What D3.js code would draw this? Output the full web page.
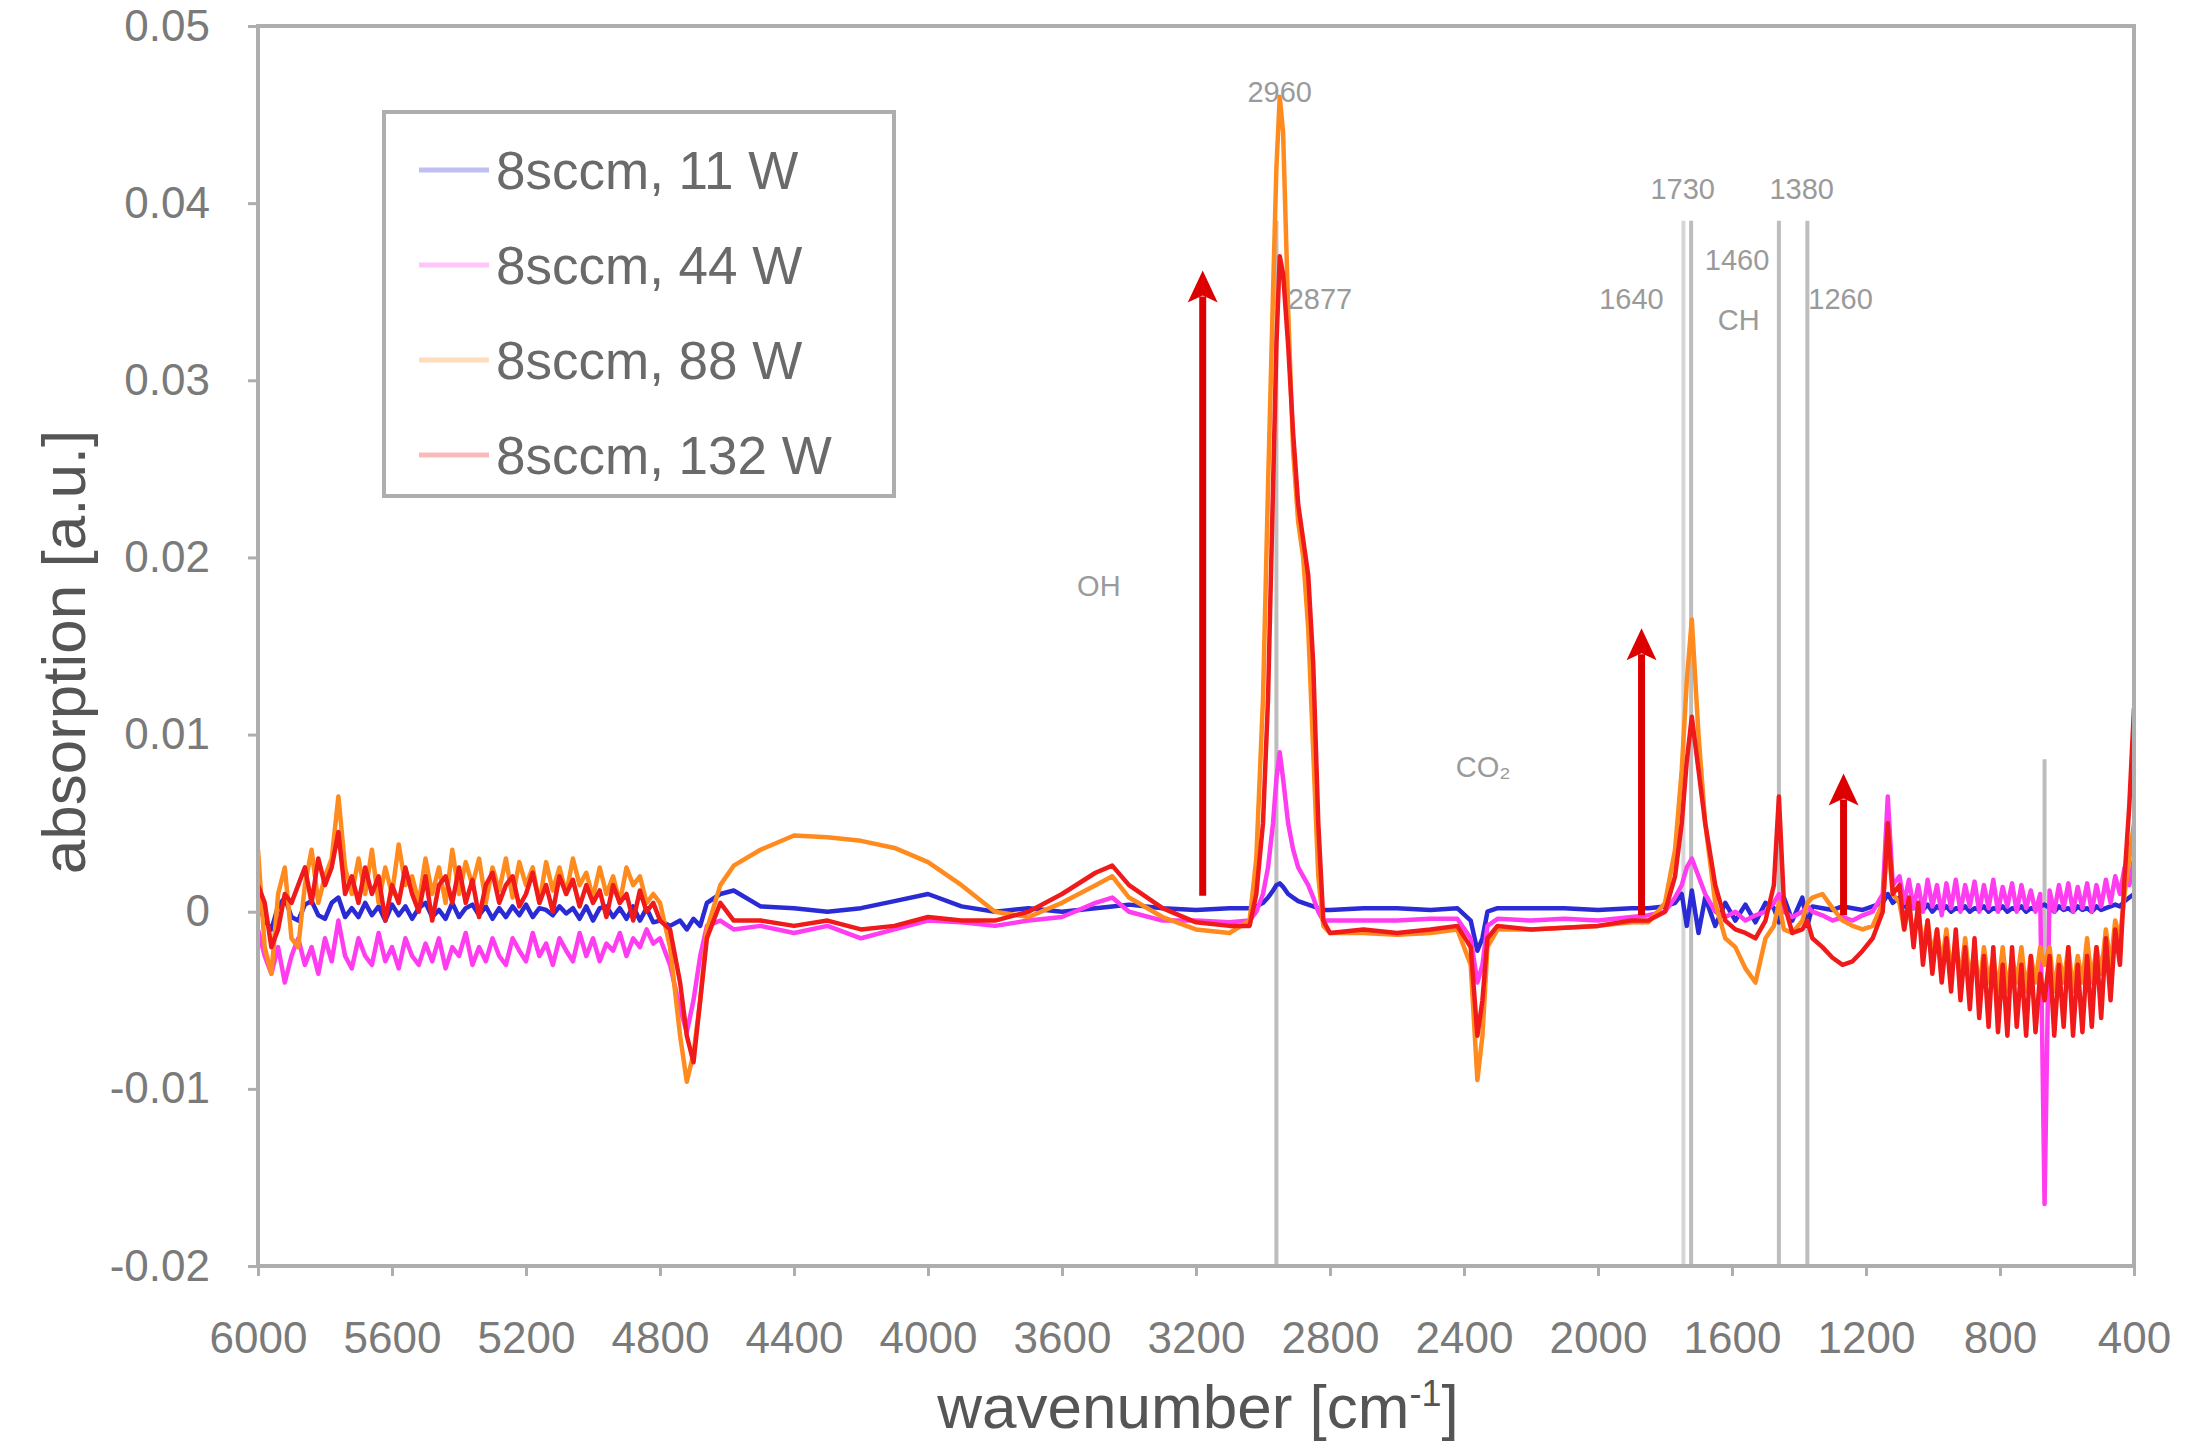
<!DOCTYPE html>
<html><head><meta charset="utf-8">
<script src="https://cdn.jsdelivr.net/npm/d3@7"></script>
<style>body{margin:0;background:#fff} svg{display:block}</style>
</head><body>
<svg id="c" width="2190" height="1454"></svg>
<script>
// ---------- DATA (absorption in units of 10^-3 a.u.) ----------
const wavenumbers = [
 6000,5980,5960,5940,5920,5900,5880,5860,5840,5820,5800,5780,5760,5740,5720,5700,5680,5660,5640,5620,
 5600,5580,5560,5540,5520,5500,5480,5460,5440,5420,5400,5380,5360,5340,5320,5300,5280,5260,5240,5220,
 5200,5180,5160,5140,5120,5100,5080,5060,5040,5020,5000,4980,4960,4940,4920,4900,4880,4860,4840,4820,
 4800,4770,4740,4720,4700,4680,4660,4620,4580,
 4500,4400,4300,4200,4100,4000,3900,3800,3700,3600,3500,3450,3400,3300,3200,3100,
 3040,3020,3000,2985,2970,2960,2950,2940,2925,2910,2895,2880,2865,2850,2835,2820,2800,
 2700,2600,2500,2420,2380,2360,2345,2330,2300,2200,2100,2000,1900,
 1850,1800,1770,1750,1735,1720,1700,1680,1650,1620,1590,1560,1530,1500,1475,1460,1445,1420,1390,1375,1360,1330,1300,1270,1240,1210,1180,1150,1135,1120,
 1100,1086,1072,1058,1044,1030,1016,1002,988,974,960,946,932,918,904,890,876,862,848,834,820,806,792,778,764,750,736,722,708,694,680,
 667,
 652,638,624,610,596,582,568,554,540,526,512,498,484,470,456,442,428,414,400
];
const abs11W = [
 0.5,-0.5,-1.0,0.3,0.8,-0.3,-0.5,0.4,0.6,-0.2,-0.4,0.5,0.8,-0.3,0.2,-0.3,0.5,-0.2,0.3,-0.5,
 0.4,-0.2,0.3,-0.4,0.2,0.5,-0.3,0.1,-0.4,0.5,-0.3,0.2,0.4,-0.2,0.3,-0.4,0.2,-0.3,0.3,-0.2,
 0.4,-0.3,0.2,0.1,-0.2,0.3,-0.1,0.2,-0.4,0.3,-0.5,0.2,0.3,-0.3,0.2,-0.4,0.3,-0.5,0.2,-0.6,
 -0.5,-0.8,-0.5,-1.0,-0.4,-0.8,0.5,1.0,1.2,
 0.3,0.2,0.0,0.2,0.6,1.0,0.3,0.0,0.2,0.0,0.2,0.3,0.4,0.2,0.1,0.2,
 0.2,0.3,0.5,0.8,1.2,1.5,1.6,1.4,1.0,0.8,0.6,0.5,0.4,0.3,0.2,0.1,0.1,
 0.2,0.2,0.1,0.2,-0.5,-2.2,-1.5,0.0,0.2,0.2,0.2,0.1,0.2,
 0.2,0.3,0.5,1.0,-0.8,1.2,-1.2,0.8,-0.8,0.5,-0.5,0.4,-0.6,0.5,0.2,-0.6,0.8,-0.5,0.8,-0.8,0.3,0.2,0.1,0.3,0.2,0.1,0.3,0.5,1.0,0.5,
 0.8,0.3,0.5,0.2,0.4,0.1,0.4,0.0,0.3,0.1,0.3,0.0,0.2,0.1,0.3,0.0,0.2,0.1,0.3,0.0,0.2,0.1,0.3,0.0,0.2,0.1,0.3,0.0,0.2,0.1,0.3,
 0.4,
 0.2,0.0,0.3,0.1,0.2,0.0,0.3,0.1,0.2,0.0,0.3,0.1,0.2,0.3,0.4,0.3,0.6,0.8,1.0
];
const abs44W = [
 -1.0,-2.5,-3.5,-2.0,-4.0,-2.5,-1.5,-3.0,-2.0,-3.5,-1.5,-2.8,-0.5,-2.5,-3.2,-1.5,-2.5,-3.0,-1.2,-2.8,
 -2.0,-3.2,-1.5,-2.5,-3.0,-1.8,-2.8,-1.5,-3.2,-2.0,-2.5,-1.2,-3.0,-2.0,-2.8,-1.5,-2.5,-3.0,-1.5,-2.2,
 -2.8,-1.2,-2.5,-1.8,-3.0,-1.5,-2.2,-2.8,-1.2,-2.5,-1.5,-2.8,-1.8,-2.2,-1.2,-2.5,-1.5,-2.0,-1.0,-1.8,
 -1.5,-3.0,-5.5,-6.8,-5.0,-2.5,-0.8,-0.5,-1.0,
 -0.8,-1.2,-0.8,-1.5,-1.0,-0.5,-0.6,-0.8,-0.5,-0.3,0.5,0.8,0.0,-0.5,-0.5,-0.6,
 -0.5,0.0,1.0,2.5,5.0,7.5,9.0,7.5,5.0,3.5,2.5,2.0,1.5,0.8,0.0,-0.5,-0.5,
 -0.5,-0.5,-0.4,-0.4,-1.5,-4.0,-3.0,-0.8,-0.4,-0.5,-0.4,-0.5,-0.3,
 -0.2,0.0,0.8,1.5,2.5,3.0,2.0,1.0,0.0,-0.3,0.0,-0.5,-0.2,0.0,0.5,1.0,0.0,-0.3,0.0,0.3,0.0,-0.2,-0.5,-0.3,-0.5,-0.2,0.0,1.0,6.5,1.5,
 2.0,0.5,1.8,0.2,1.5,0.0,1.8,0.3,1.5,-0.2,1.6,0.2,1.8,0.0,1.5,0.3,1.7,0.0,1.5,0.2,1.8,0.0,1.4,0.3,1.6,0.0,1.5,0.2,1.2,0.0,1.0,
 -16.5,
 1.2,0.0,1.5,0.2,1.6,0.0,1.4,0.2,1.6,0.0,1.5,0.3,1.8,0.5,2.0,1.0,2.5,1.5,3.0
];
const abs88W = [
 3.5,-2.0,-3.5,1.0,2.5,-1.5,-2.0,1.5,3.5,0.5,2.0,3.0,6.5,2.5,1.0,3.0,1.0,3.5,0.5,2.5,
 1.0,3.8,1.5,2.0,0.5,3.0,1.0,2.5,0.5,3.5,1.0,2.8,1.5,3.0,0.5,2.5,1.2,3.0,0.8,2.8,
 1.5,2.5,0.5,2.8,1.2,2.5,1.0,3.0,1.5,2.2,0.8,2.5,1.0,2.0,0.5,2.5,1.5,2.0,0.5,1.0,
 0.5,-2.0,-7.0,-9.6,-8.0,-5.0,-1.0,1.5,2.6,
 3.5,4.3,4.2,4.0,3.6,2.8,1.5,0.0,-0.3,0.5,1.5,2.0,0.8,-0.3,-1.0,-1.2,
 -0.5,3.0,12.0,24.0,35.0,42.0,46.0,44.0,34.0,26.0,22.0,20.0,16.0,9.0,2.0,-0.8,-1.2,
 -1.2,-1.3,-1.2,-1.0,-3.0,-9.5,-7.0,-2.0,-1.0,-1.0,-0.9,-0.8,-0.6,
 -0.6,0.5,3.5,8.0,13.0,16.5,10.0,5.0,0.5,-1.5,-2.0,-3.2,-4.0,-1.5,-0.8,0.5,-1.0,-1.2,-0.5,0.5,0.8,1.0,0.2,-0.5,-0.8,-1.0,-0.8,0.5,4.0,1.0,
 0.5,-1.0,0.3,-1.5,0.0,-2.0,-0.5,-2.5,-1.0,-3.0,-1.0,-3.5,-1.5,-3.8,-1.5,-4.0,-2.0,-4.5,-2.0,-4.0,-2.5,-4.5,-2.0,-4.5,-2.5,-4.0,-2.0,-4.5,-2.5,-4.0,-2.0,
 -3.0,
 -2.0,-4.5,-2.5,-4.0,-2.0,-4.5,-2.5,-4.0,-1.5,-4.0,-2.0,-3.5,-1.0,-3.0,-0.5,-1.5,1.0,3.0,5.0
];
const abs132W = [
 1.5,0.5,-2.0,-1.0,1.0,0.5,1.5,2.5,0.5,3.0,1.5,2.5,4.5,1.0,2.0,0.5,2.5,1.0,2.0,-0.5,
 1.5,0.5,2.5,1.0,0.0,2.0,-0.5,1.5,2.0,0.5,2.5,0.5,1.8,-0.3,1.5,2.2,0.5,1.5,2.0,0.3,
 1.0,2.2,0.5,1.5,0.0,2.0,1.0,1.8,0.3,1.5,0.5,1.2,-0.3,1.5,0.5,1.0,-0.5,1.2,0.0,0.5,
 -0.5,-1.0,-4.0,-7.0,-8.5,-5.0,-1.5,0.5,-0.5,
 -0.5,-0.8,-0.5,-1.0,-0.8,-0.3,-0.5,-0.5,0.0,1.0,2.2,2.6,1.5,0.2,-0.6,-0.8,
 -0.8,1.0,5.0,12.0,24.0,32.0,37.0,36.0,32.0,27.0,23.0,21.0,19.0,14.0,5.0,-0.5,-1.2,
 -1.0,-1.2,-1.0,-0.8,-2.0,-7.0,-5.0,-1.5,-0.8,-1.0,-0.9,-0.8,-0.5,
 -0.5,0.0,2.0,5.0,8.5,11.0,8.0,5.0,1.5,-0.5,-1.0,-1.2,-1.5,-0.5,1.5,6.5,0.5,-1.2,-1.0,-0.5,-1.5,-2.0,-2.6,-3.0,-2.8,-2.2,-1.5,0.0,5.0,1.0,
 1.5,-1.0,0.8,-2.0,0.5,-3.0,-0.5,-3.5,-1.0,-4.0,-1.5,-4.5,-1.0,-5.0,-2.0,-5.5,-1.5,-6.0,-2.5,-6.5,-2.0,-6.8,-3.0,-7.0,-2.0,-6.5,-3.0,-7.0,-2.5,-6.8,-3.5,
 -5.0,
 -2.5,-7.0,-3.0,-6.5,-2.0,-7.0,-3.0,-6.8,-2.5,-6.5,-2.0,-6.0,-1.5,-5.0,-1.0,-3.0,2.0,6.0,11.5
];
const seriesNames = ["8sccm, 11 W","8sccm, 44 W","8sccm, 88 W","8sccm, 132 W"];
const seriesColors = ["#2b2bd6","#ff3cf0","#ff8a1e","#f01a1a"];
const xTickValues = [6000,5600,5200,4800,4400,4000,3600,3200,2800,2400,2000,1600,1200,800,400];
const xTickLabels = ["6000","5600","5200","4800","4400","4000","3600","3200","2800","2400","2000","1600","1200","800","400"];
const yTickValues = [-20,-10,0,10,20,30,40,50];
const yTickLabels = ["-0.02","-0.01","0","0.01","0.02","0.03","0.04","0.05"];
// marker lines (gray verticals)
const markerWn = [2960,1745,1722,1460,1375,667];
const markerTop = [39,39,39,39,39,8.6];
const markerBottom = [-20,-20,-20,-20,-20,-3];
// peak labels
const labelText = ["2960","2877","OH","CO\u2082","1730","1380","1460","1640","1260","CH"];
const labelWn = [2950,2830,3490,2343,1747,1392,1585,1900,1276,1580];
const labelVal = [46.3,34.6,18.4,8.2,40.8,40.8,36.8,34.6,34.6,33.4];
// red arrows
const arrowWn = [3180,1870,1267];
const arrowFrom = [0.9,-0.2,-0.2];
const arrowTo = [36.2,16.0,7.8];

// ---------- DRAW ----------
const W=2190,H=1454;
const L=258,R=2134,T=26,B=1266;
const x=d3.scaleLinear().domain([6000,400]).range([L,R]);
const y=d3.scaleLinear().domain([-20,50]).range([B,T]);
const svg=d3.select('#c');
svg.append('rect').attr('width',W).attr('height',H).attr('fill','#fff');
const FONT='"Liberation Sans", Arial, sans-serif';

svg.append('clipPath').attr('id','clip').append('rect').attr('x',L).attr('y',T).attr('width',R-L).attr('height',B-T);
const plot=svg.append('g').attr('clip-path','url(#clip)');

// marker lines
markerWn.forEach((w,i)=>{
  plot.append('line').attr('x1',x(w)).attr('x2',x(w)).attr('y1',y(markerTop[i])).attr('y2',y(markerBottom[i]))
   .attr('stroke', i===1 ? '#d6d6d6' : '#bdbdbd').attr('stroke-width',4);
});

// series
const allSeries=[abs11W,abs44W,abs88W,abs132W];
const line=d3.line().x(d=>x(d[0])).y(d=>y(d[1]));
allSeries.forEach((vals,k)=>{
  plot.append('path').datum(wavenumbers.map((w,i)=>[w,vals[i]]))
    .attr('d',line).attr('fill','none').attr('stroke',seriesColors[k])
    .attr('stroke-width',4.5).attr('stroke-linejoin','round');
});

// labels
labelText.forEach((t,i)=>{
  svg.append('text').attr('x',x(labelWn[i])).attr('y',y(labelVal[i])).attr('dy','0.35em')
    .attr('text-anchor','middle').attr('font-family',FONT).attr('font-size',29).attr('fill','#9a9a9a').text(t);
});

// arrows
arrowWn.forEach((w,i)=>{
  const xx=x(w), y0=y(arrowFrom[i]), y1=y(arrowTo[i]);
  svg.append('line').attr('x1',xx).attr('x2',xx).attr('y1',y0).attr('y2',y1+26).attr('stroke','#dd0000').attr('stroke-width',7);
  svg.append('path').attr('d',`M${xx},${y1} L${xx-15},${y1+32} L${xx},${y1+25} L${xx+15},${y1+32} Z`).attr('fill','#dd0000');
});

// frame
svg.append('rect').attr('x',L).attr('y',T).attr('width',R-L).attr('height',B-T)
  .attr('fill','none').attr('stroke','#aeaeae').attr('stroke-width',4);

// axes
const xAxis=d3.axisBottom(x).tickValues(xTickValues).tickFormat((d,i)=>xTickLabels[i]).tickSize(10).tickPadding(46);
const gx=svg.append('g').attr('transform',`translate(0,${B})`).call(xAxis);
const yAxis=d3.axisLeft(y).tickValues(yTickValues).tickFormat((d,i)=>yTickLabels[i]).tickSize(10).tickPadding(38);
const gy=svg.append('g').attr('transform',`translate(${L},0)`).call(yAxis);
[gx,gy].forEach(g=>{
  g.select('.domain').remove();
  g.selectAll('line').attr('stroke','#aeaeae').attr('stroke-width',3);
  g.selectAll('text').attr('font-family',FONT).attr('font-size',44).attr('fill','#7a7a7a');
});

// axis titles
svg.append('text').attr('transform',`translate(63,652) rotate(-90)`).attr('text-anchor','middle').attr('dy','0.35em')
  .attr('font-family',FONT).attr('font-size',62).attr('fill','#555').text('absorption [a.u.]');
const xt=svg.append('text').attr('x',1198).attr('y',1428).attr('text-anchor','middle')
  .attr('font-family',FONT).attr('font-size',62).attr('fill','#555');
xt.append('tspan').text('wavenumber [cm');
xt.append('tspan').attr('dy',-22).attr('font-size',36).text('-1');
xt.append('tspan').attr('dy',22).text(']');

// legend
const lg=svg.append('g');
lg.append('rect').attr('x',384).attr('y',112).attr('width',510).attr('height',384)
  .attr('fill','#fff').attr('stroke','#aeaeae').attr('stroke-width',4);
const legY=[170,265,360,455];
seriesNames.forEach((n,i)=>{
  lg.append('line').attr('x1',419).attr('x2',489).attr('y1',legY[i]).attr('y2',legY[i])
    .attr('stroke',seriesColors[i]).attr('stroke-opacity',0.3).attr('stroke-width',5);
  lg.append('text').attr('x',496).attr('y',legY[i]).attr('dy','0.36em').attr('font-family',FONT)
    .attr('font-size',53).attr('fill','#6a6a6a').text(n);
});
</script>
</body></html>
